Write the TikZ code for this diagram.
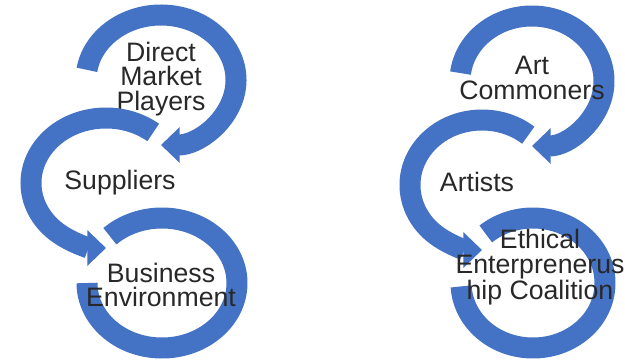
\documentclass[tikz,border=0pt]{standalone}
\usepackage{fontspec}
\setmainfont{Liberation Sans}
\usetikzlibrary{arrows.meta}
\definecolor{ringblue}{RGB}{68,114,196}
\definecolor{labelgray}{RGB}{40,40,40}
\tikzset{every picture/.style={line width=0.75pt}}
\tikzset{
  ring/.style={draw=ringblue, line width=15.75pt},
  ringhead/.style={-{Triangle[width=26pt,length=14pt]}},
  ringlabel/.style={text=labelgray, align=center, inner sep=0pt, font=\fontsize{20}{18.5}\selectfont}
}

\begin{document}
\begin{tikzpicture}[x=0.75pt,y=0.75pt,yscale=-1,xscale=1]
\useasboundingbox (0,0) rectangle (625,362);

% ring centres
\coordinate (marketC) at (161,80);
\coordinate (suppliersC) at (106,183);
\coordinate (businessC) at (162,283);
\coordinate (commonersC) at (532,81);
\coordinate (artistsC) at (482,185);
\coordinate (coalitionC) at (533,283);

%Shape: Arc [left, top]
\draw [ring,ringhead] (marketC) ++(189:75 and 65) arc [start angle=189, end angle=450, x radius=75, y radius=65];
% Text Node
\node [ringlabel] (market) at (161,79) {Direct\\Market\\Players};

%Shape: Arc [left, middle]
\draw [ring,ringhead] (suppliersC) ++(309:75 and 65) arc [start angle=309, end angle=90, x radius=75, y radius=65];
% Text Node
\node [ringlabel] (suppliers) at (120,183) {Suppliers};

%Shape: Arc [left, bottom]
\draw [ring] (businessC) ++(226:75 and 65) arc [start angle=226, end angle=540, x radius=75, y radius=65];
% Text Node
\node [ringlabel] (business) at (161,285) {Business\\Environment};

%Shape: Arc [right, top]
\draw [ring,ringhead] (commonersC) ++(187:72 and 65) arc [start angle=187, end angle=450, x radius=72, y radius=65];
% Text Node
\node [ringlabel] (commoners) at (532,78) {Art\\Commoners};

%Shape: Arc [right, middle]
\draw [ring,ringhead] (artistsC) ++(310:72 and 65) arc [start angle=310, end angle=90, x radius=72, y radius=65];
% Text Node
\node [ringlabel] (artists) at (477,182) {Artists};

%Shape: Arc [right, bottom]
\draw [ring] (coalitionC) ++(229:72 and 65) arc [start angle=229, end angle=537, x radius=72, y radius=65];
% Text Node
\node [ringlabel] (coalition) at (540,267) {Ethical\\Enterprenerus\\hip Coalition};

\end{tikzpicture}
\end{document}
